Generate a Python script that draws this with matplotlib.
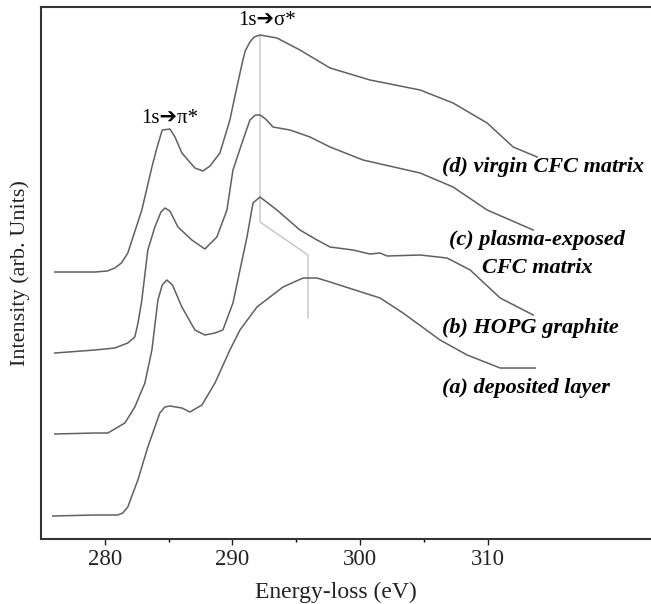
import numpy as np
import matplotlib
matplotlib.use("Agg")
import matplotlib.pyplot as plt
from matplotlib.ticker import FixedLocator

plt.rcParams['font.family'] = ['Liberation Serif', 'DejaVu Sans']

# (a) deposited layer
energy_a = [275.92, 279.22, 281.02, 281.40, 281.80, 282.59, 283.37, 284.31, 284.70, 285.10,
            286.04, 286.67, 287.61, 288.63, 289.80, 290.59, 291.92, 293.96, 295.53, 296.63,
            297.65, 301.57, 303.37, 306.27, 308.39, 310.98, 313.73]
intensity_a = [0.00, 0.02, 0.02, 0.06, 0.18, 0.72, 1.38, 2.06, 2.18, 2.20,
               2.16, 2.08, 2.22, 2.66, 3.32, 3.72, 4.18, 4.58, 4.76, 4.76,
               4.68, 4.36, 4.06, 3.52, 3.22, 2.96, 2.96]

# (b) HOPG graphite
energy_b = [276.08, 279.22, 280.24, 281.57, 282.35, 283.14, 283.69, 284.16, 284.50, 284.86,
            285.30, 286.04, 287.06, 287.84, 288.63, 289.25, 290.04, 290.59, 291.14, 291.61,
            292.16, 293.49, 295.29, 296.63, 297.65, 299.45, 300.78, 301.57, 302.12, 304.71,
            306.82, 308.63, 310.98, 313.57]
intensity_b = [0.00, 0.02, 0.02, 0.22, 0.54, 1.02, 1.68, 2.68, 2.98, 3.08,
               2.98, 2.54, 2.08, 1.98, 2.02, 2.08, 2.62, 3.28, 3.94, 4.62,
               4.74, 4.48, 4.08, 3.88, 3.74, 3.68, 3.60, 3.62, 3.56, 3.58,
               3.52, 3.28, 2.72, 2.38]

# (c) plasma-exposed CFC matrix
energy_c = [276.08, 279.22, 280.78, 281.80, 282.35, 282.60, 282.90, 283.37, 283.92, 284.40,
            284.71, 285.10, 285.73, 286.82, 287.84, 288.78, 289.57, 290.04, 290.75, 291.37,
            291.80, 292.16, 292.60, 293.18, 294.51, 296.08, 297.65, 300.24, 304.71, 307.29,
            309.96, 313.57]
intensity_c = [0.00, 0.06, 0.10, 0.20, 0.32, 0.60, 1.06, 2.06, 2.52, 2.82,
               2.90, 2.84, 2.52, 2.26, 2.08, 2.32, 2.86, 3.66, 4.20, 4.66,
               4.76, 4.76, 4.68, 4.52, 4.46, 4.32, 4.12, 3.86, 3.60, 3.32,
               2.86, 2.46]

# (d) virgin CFC matrix
energy_d = [276.08, 279.22, 280.20, 280.78, 281.30, 281.80, 282.90, 283.69, 284.10, 284.50,
            285.10, 285.50, 286.04, 287.06, 287.69, 288.24, 289.02, 289.80, 290.35, 290.82,
            291.00, 291.37, 291.70, 292.16, 293.49, 295.29, 297.65, 300.78, 304.71, 307.29,
            309.96, 312.00, 313.88]
intensity_d = [0.00, 0.00, 0.02, 0.08, 0.18, 0.38, 1.24, 2.10, 2.50, 2.84,
               2.86, 2.70, 2.38, 2.08, 2.02, 2.12, 2.38, 3.04, 3.70, 4.24,
               4.42, 4.60, 4.70, 4.74, 4.68, 4.44, 4.08, 3.84, 3.64, 3.38,
               2.98, 2.50, 2.30]

offsets = [0.46, 2.10, 3.72, 5.34]

# guide line marking the sigma* peak shift
sigma_line_x = [292.16, 292.16, 295.92, 295.92]
sigma_line_y = [10.08, 6.34, 5.68, 4.42]

fig = plt.figure(figsize=(6.51, 6.04), dpi=100)
ax = fig.add_axes([0.063, 0.1076, 0.937, 0.8808])

ax.plot(sigma_line_x, sigma_line_y, color="#c4c4c4", lw=1.0)

curves = [(energy_a, intensity_a), (energy_b, intensity_b),
          (energy_c, intensity_c), (energy_d, intensity_d)]
for (e, i), off in zip(curves, offsets):
    ax.plot(e, np.array(i) + off, color="#606060", lw=1.1,
            solid_joinstyle="round")

ax.set_xlim(275, 322.8)
ax.set_ylim(0, 10.64)

# peak labels
ax.text(292.7, 10.38, "1s➔σ*", ha="center", va="center", fontsize=15)
ax.text(285.1, 8.42, "1s➔π*", ha="center", va="center", fontsize=15)

# sample labels
lab = dict(fontsize=16, fontweight="bold", fontstyle="italic", va="center")
ax.text(306.4, 7.44, "(d) virgin CFC matrix", ha="left", **lab)
ax.text(313.9, 5.70, "(c) plasma-exposed\nCFC matrix", ha="center",
        linespacing=1.5, **lab)
ax.text(306.4, 4.22, "(b) HOPG graphite", ha="left", **lab)
ax.text(306.4, 3.02, "(a) deposited layer", ha="left", **lab)

ax.xaxis.set_major_locator(FixedLocator([280, 290, 300, 310]))
ax.xaxis.set_minor_locator(FixedLocator([285, 295, 305]))
ax.set_yticks([])
ax.tick_params(axis="x", which="major", length=4, width=1, labelsize=16.5,
               colors="#222222", direction="out")
ax.tick_params(axis="x", which="minor", length=2, width=1, direction="out")

for side in ["left", "bottom", "top"]:
    ax.spines[side].set_linewidth(1.5)
    ax.spines[side].set_color("#333333")
ax.spines["right"].set_visible(False)

ax.set_xlabel("Energy-loss (eV)", fontsize=17, color="#222222")
ax.set_ylabel("Intensity (arb. Units)", fontsize=16, color="#222222")
ax.xaxis.set_label_coords(0.484, -0.08)
ax.yaxis.set_label_coords(-0.018, 0.5)

fig.savefig("out.png", dpi=100)
